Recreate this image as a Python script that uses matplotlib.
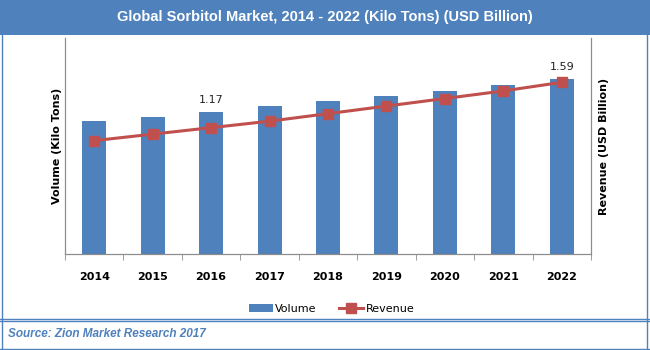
import matplotlib
matplotlib.use('Agg')
import matplotlib.pyplot as plt
from matplotlib.patches import Rectangle, Patch
from matplotlib.lines import Line2D
import numpy as np

# Global sorbitol market, volume (kilo tons) and revenue (USD billion)
years = ['2014', '2015', '2016', '2017', '2018', '2019', '2020', '2021', '2022']
volume = [616, 634, 657, 685, 708, 731, 755, 782, 810]
revenue = [1.05, 1.11, 1.17, 1.23, 1.30, 1.37, 1.44, 1.51, 1.59]
labelled = {2: '1.17', 8: '1.59'}

BLUE = '#4F81BD'
RED = '#C0504D'

fig = plt.figure(figsize=(6.5, 3.5), dpi=100)
fig.patch.set_facecolor('white')

# title banner
fig.patches.append(Rectangle((0, 0.9), 1, 0.1, transform=fig.transFigure,
                             facecolor=BLUE, edgecolor='none', zorder=0))
fig.text(0.5, 0.951, 'Global Sorbitol Market, 2014 - 2022 (Kilo Tons) (USD Billion)',
         ha='center', va='center', color='white', fontsize=10.5, fontweight='bold',
         family='Liberation Sans')

# outer frame and footer separator
for xs, ys in [([0.003, 0.003], [0.0, 0.9]), ([0.996, 0.996], [0.0, 0.9]),
               ([0.0, 1.0], [0.003, 0.003]), ([0.0, 1.0], [0.09, 0.09]),
               ([0.0, 1.0], [0.082, 0.082])]:
    fig.lines.append(Line2D(xs, ys, transform=fig.transFigure, color=BLUE, lw=1.0))

fig.text(0.012, 0.045, 'Source: Zion Market Research 2017', ha='left', va='center',
         color=BLUE, fontsize=8.5, style='italic', fontweight='bold',
         family='Liberation Sans')

ax = fig.add_axes([0.1, 0.2743, 0.8092, 0.617])
x = np.arange(len(years))
ax.bar(x, volume, width=0.41, color=BLUE, zorder=2)
ax.set_ylim(0, 1000)
ax.set_xlim(-0.5, len(years) - 0.5)

ax2 = ax.twinx()
ax2.plot(x, revenue, color=RED, lw=2.2, marker='s', markersize=7,
         markerfacecolor=RED, markeredgecolor=RED, zorder=3)
ax2.set_ylim(0, 2.0)

# value labels sit just above the bars
for i, txt in labelled.items():
    ax.annotate(txt, (x[i], volume[i]), xytext=(0, 5), textcoords='offset points',
                ha='center', va='bottom', fontsize=8, color='#222222')

for a in (ax, ax2):
    a.spines['top'].set_visible(False)
    a.spines['left'].set_color('#8c8c8c')
    a.spines['right'].set_color('#8c8c8c')
    a.spines['bottom'].set_color('#8c8c8c')
    a.set_yticks([])
    a.patch.set_alpha(0)

ax.set_xticks(x)
ax.set_xticklabels(years, fontsize=8, fontweight='bold')
ax.set_xticks(np.arange(-0.5, len(years)), minor=True)
ax.tick_params(axis='x', which='major', length=0, pad=13)
ax.tick_params(axis='x', which='minor', length=4, color='#8c8c8c', direction='out')

ax.set_ylabel('Volume (Kilo Tons)', fontsize=8, fontweight='bold', labelpad=2)
ax2.set_ylabel('Revenue (USD Billion)', fontsize=8, fontweight='bold', labelpad=6)

handles = [Patch(facecolor=BLUE, edgecolor='none', label='Volume'),
           Line2D([], [], color=RED, lw=2.2, marker='s', markersize=7, label='Revenue')]
fig.legend(handles=handles, loc='center', bbox_to_anchor=(0.51, 0.117), ncol=2,
           frameon=False, fontsize=8, handlelength=2.2, handletextpad=0.2,
           columnspacing=2.0)

fig.savefig('out.png', dpi=100)
